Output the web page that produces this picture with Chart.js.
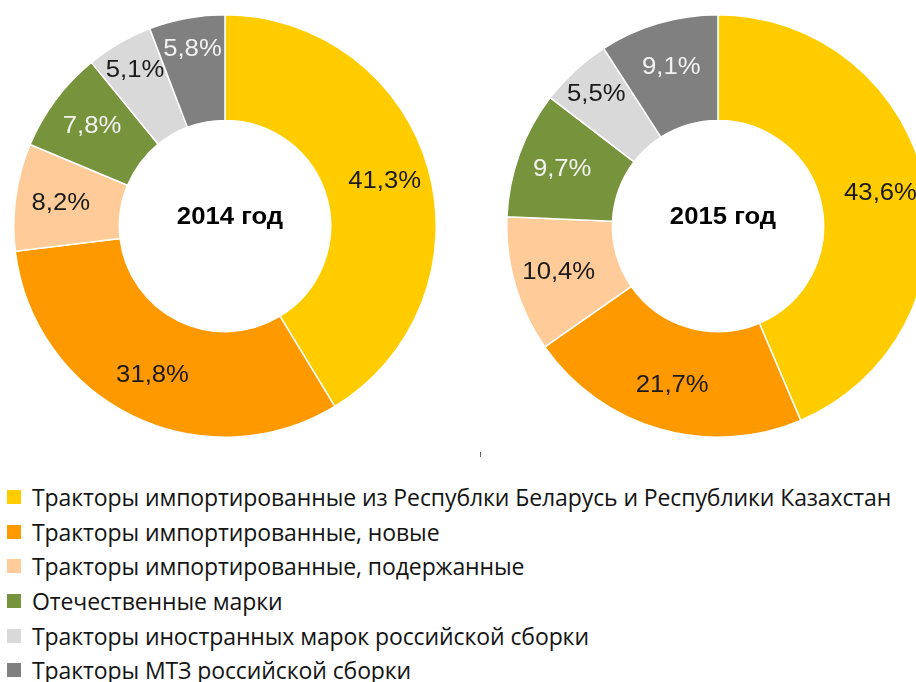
<!DOCTYPE html>
<html>
<head>
    <meta charset="UTF-8">
    <title>Тракторы: структура рынка 2014-2015</title>
    <script src="https://cdn.jsdelivr.net/npm/chart.js"></script>
    <style>
        body {
            margin: 0;
            width: 916px;
            height: 682px;
            overflow: hidden;
            background: #FFFFFF;
            position: relative;
            font-family: "Liberation Sans", Arial, sans-serif;
        }
        .donut {
            position: absolute;
            top: 14px;
            width: 424px;
            height: 424px;
        }
        #legend {
            position: absolute;
            left: 7px;
            top: 480px;
            font-family: "Open Sans", sans-serif;
            font-size: 23px;
            letter-spacing: -0.1px;
            color: #141414;
        }
        .legend-row {
            height: 34.6px;
            display: flex;
            align-items: center;
            white-space: nowrap;
        }
        .legend-box {
            width: 14px;
            height: 14px;
            margin-right: 11px;
            flex: none;
        }
        .tick {
            position: absolute;
            left: 480px;
            top: 452px;
            width: 1px;
            height: 5px;
            background: #666;
        }
    </style>
</head>
<body>
    <div class="donut" style="left: 13px;"><canvas id="donut2014"></canvas></div>
    <div class="donut" style="left: 506px;"><canvas id="donut2015"></canvas></div>
    <div class="tick"></div>
    <div id="legend"></div>

    <script>
        const categories = [
            'Тракторы импортированные из Республки Беларусь и Республики Казахстан',
            'Тракторы импортированные, новые',
            'Тракторы импортированные, подержанные',
            'Отечественные марки',
            'Тракторы иностранных марок российской сборки',
            'Тракторы МТЗ российской сборки'
        ];
        const values2014 = [41.3, 31.8, 8.2, 7.8, 5.1, 5.8];
        const values2015 = [43.6, 21.7, 10.4, 9.7, 5.5, 9.1];

        const sliceColors = ['#FFCC00', '#FF9900', '#FFCC99', '#77933C', '#D9D9D9', '#808080'];
        const labelColors = ['#1a1a1a', '#1a1a1a', '#1a1a1a', '#F2F2F2', '#1a1a1a', '#F2F2F2'];

        // draws text slightly widened, like the original
        function wideText(ctx, text, x, y) {
            ctx.save();
            ctx.translate(x, y);
            ctx.scale(1.07, 1);
            ctx.fillText(text, 0, 0);
            ctx.restore();
        }

        // labels inside the ring + year text in the hole
        const ringLabels = {
            id: 'ringLabels',
            afterDatasetsDraw(chart, args, opts) {
                const ctx = chart.ctx;
                const meta = chart.getDatasetMeta(0);
                const values = chart.data.datasets[0].data;
                ctx.save();
                ctx.textAlign = 'center';
                ctx.textBaseline = 'middle';
                ctx.font = '24px "Liberation Sans", Arial, sans-serif';
                meta.data.forEach((arc, i) => {
                    const p = arc.getProps(['x', 'y', 'startAngle', 'endAngle', 'innerRadius', 'outerRadius'], true);
                    const mid = (p.startAngle + p.endAngle) / 2;
                    // narrow slices get their label pushed towards the outer edge
                    const k = values[i] < 6 ? 0.7 : 0.57;
                    const r = p.innerRadius + k * (p.outerRadius - p.innerRadius);
                    ctx.fillStyle = labelColors[i];
                    wideText(ctx, values[i].toFixed(1).replace('.', ',') + '%',
                        p.x + r * Math.cos(mid), p.y + r * Math.sin(mid));
                });
                const c = meta.data[0];
                ctx.font = 'bold 24px "Liberation Sans", Arial, sans-serif';
                ctx.fillStyle = '#000000';
                wideText(ctx, opts.text, c.x + 5, c.y - 9);
                ctx.restore();
            }
        };

        function makeDonut(id, values, title) {
            new Chart(document.getElementById(id), {
                type: 'doughnut',
                data: {
                    labels: categories,
                    datasets: [{
                        data: values,
                        backgroundColor: sliceColors,
                        borderColor: '#FFFFFF',
                        borderWidth: 1.5
                    }]
                },
                options: {
                    responsive: true,
                    maintainAspectRatio: false,
                    animation: false,
                    cutout: '50%',
                    layout: { padding: 0 },
                    plugins: {
                        legend: { display: false },
                        tooltip: { enabled: false },
                        ringLabels: { text: title }
                    }
                },
                plugins: [ringLabels]
            });
        }

        makeDonut('donut2014', values2014, '2014 год');
        makeDonut('donut2015', values2015, '2015 год');

        // legend
        const legend = document.getElementById('legend');
        categories.forEach((name, i) => {
            const row = document.createElement('div');
            row.className = 'legend-row';
            row.innerHTML = '<span class="legend-box" style="background:' + sliceColors[i] + '"></span><span>' + name + '</span>';
            legend.appendChild(row);
        });
    </script>
</body>
</html>
